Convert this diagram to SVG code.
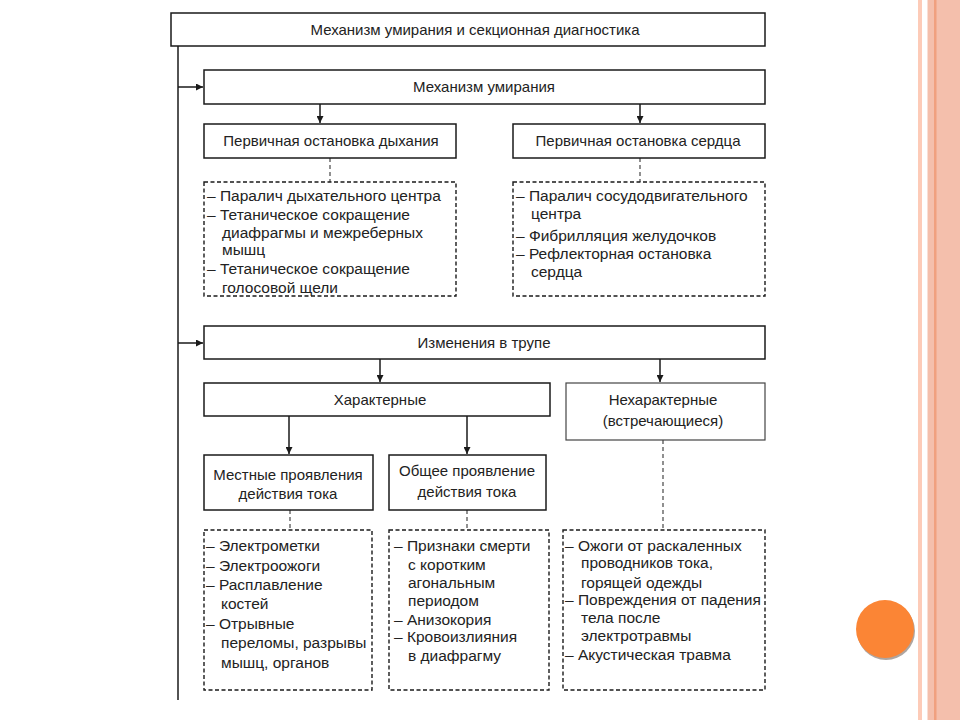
<svg xmlns="http://www.w3.org/2000/svg" width="960" height="720" viewBox="0 0 960 720">
<defs>
<marker id="ah" viewBox="0 0 10 10" refX="10" refY="5" markerWidth="7" markerHeight="7" markerUnits="userSpaceOnUse" orient="auto">
<path d="M0,0 L10,5 L0,10 z" fill="#1a1a1a"/>
</marker>
<style>
.box{fill:#fff;stroke:#1a1a1a;stroke-width:1.5}
.nbox{fill:#fff;stroke:#444;stroke-width:1.2}
.dbox{fill:#fff;stroke:#1a1a1a;stroke-width:1.4;stroke-dasharray:4 2.5}
.ln{fill:none;stroke:#1a1a1a;stroke-width:1.5}
.dln{fill:none;stroke:#555;stroke-width:1.3;stroke-dasharray:4 3}
text{font-family:"Liberation Sans",Arial,sans-serif;font-size:15px;fill:#222}
.l{font-size:15.5px}
.c{text-anchor:middle}
</style>
</defs>
<rect width="960" height="720" fill="#fff"/>
<g id="decor">
<rect x="918" y="0" width="4" height="720" fill="#fdcbb8"/>
<rect x="927.5" y="0" width="32.5" height="720" fill="#f4bfac"/>
<rect x="934" y="0" width="2.5" height="720" fill="#f0a07f"/>
<circle cx="886" cy="631" r="29" fill="#9a8f88" opacity="0.8"/>
<circle cx="885" cy="629" r="29" fill="#fb8535"/>
</g>
<g id="connectors">
<path class="ln" d="M178,46 V700"/>
<path class="ln" d="M178,87 H203" marker-end="url(#ah)"/>
<path class="ln" d="M178,343 H203" marker-end="url(#ah)"/>
<path class="ln" d="M320,104 V123" marker-end="url(#ah)"/>
<path class="ln" d="M640,104 V123" marker-end="url(#ah)"/>
<path class="dln" d="M330,158 V182"/>
<path class="dln" d="M640,158 V182"/>
<path class="ln" d="M380,359 V382" marker-end="url(#ah)"/>
<path class="ln" d="M660,359 V382" marker-end="url(#ah)"/>
<path class="ln" d="M289,416 V454" marker-end="url(#ah)"/>
<path class="ln" d="M467,416 V454" marker-end="url(#ah)"/>
<path class="dln" d="M290,510 V530"/>
<path class="dln" d="M467,510 V530"/>
<path class="dln" d="M663,440 V530"/>
</g>
<g id="n-root">
<rect class="box" x="171" y="13" width="594" height="33"/>
<text class="c" x="475" y="35">Механизм умирания и секционная диагностика</text>
</g>
<g id="n-mech">
<rect class="box" x="204" y="70" width="561" height="34"/>
<text class="c" x="484" y="92">Механизм умирания</text>
</g>
<g id="n-resp">
<rect class="box" x="204" y="124" width="252" height="34"/>
<text class="c" x="331" y="146">Первичная остановка дыхания</text>
</g>
<g id="n-heart">
<rect class="box" x="513" y="124" width="252" height="34"/>
<text class="c" x="638" y="146">Первичная остановка сердца</text>
</g>
<g id="n-resp-list" class="l">
<rect class="dbox" x="204" y="182" width="252" height="114"/>
<text class="l" x="207" y="201">– Паралич дыхательного центра</text>
<text class="l" x="207" y="220">– Тетаническое сокращение</text>
<text class="l" x="222" y="238">диафрагмы и межреберных</text>
<text class="l" x="222" y="255">мышц</text>
<text class="l" x="207" y="274">– Тетаническое сокращение</text>
<text class="l" x="222" y="293">голосовой щели</text>
</g>
<g id="n-heart-list">
<rect class="dbox" x="513" y="182" width="252" height="114"/>
<text class="l" x="516" y="201">– Паралич сосудодвигательного</text>
<text class="l" x="531" y="219">центра</text>
<text class="l" x="516" y="241">– Фибрилляция желудочков</text>
<text class="l" x="516" y="259">– Рефлекторная остановка</text>
<text class="l" x="531" y="277">сердца</text>
</g>
<g id="n-changes">
<rect class="box" x="204" y="326" width="561" height="33"/>
<text class="c" x="484" y="348">Изменения в трупе</text>
</g>
<g id="n-char">
<rect class="box" x="204" y="383" width="346" height="33"/>
<text class="c" x="380" y="405">Характерные</text>
</g>
<g id="n-nonchar">
<rect class="nbox" x="566" y="383" width="199" height="57"/>
<text class="c" x="663" y="405">Нехарактерные</text>
<text class="c" x="663" y="426">(встречающиеся)</text>
</g>
<g id="n-local">
<rect class="box" x="204" y="455" width="169" height="55"/>
<text class="c" x="288" y="480">Местные проявления</text>
<text class="c" x="288" y="499">действия тока</text>
</g>
<g id="n-general">
<rect class="box" x="389" y="455" width="157" height="55"/>
<text class="c" x="467" y="476">Общее проявление</text>
<text class="c" x="467" y="497">действия тока</text>
</g>
<g id="n-local-list">
<rect class="dbox" x="204" y="530" width="168" height="160"/>
<text class="l" x="206" y="551">– Электрометки</text>
<text class="l" x="206" y="571">– Электроожоги</text>
<text class="l" x="206" y="590">– Расплавление</text>
<text class="l" x="221" y="609">костей</text>
<text class="l" x="206" y="629">– Отрывные</text>
<text class="l" x="221" y="648">переломы, разрывы</text>
<text class="l" x="221" y="668">мышц, органов</text>
</g>
<g id="n-general-list">
<rect class="dbox" x="389" y="530" width="160" height="160"/>
<text class="l" x="394" y="551">– Признаки смерти</text>
<text class="l" x="408" y="570">с коротким</text>
<text class="l" x="408" y="588">агональным</text>
<text class="l" x="408" y="606">периодом</text>
<text class="l" x="394" y="625">– Анизокория</text>
<text class="l" x="394" y="642">– Кровоизлияния</text>
<text class="l" x="408" y="661">в диафрагму</text>
</g>
<g id="n-nonchar-list">
<rect class="dbox" x="563" y="530" width="202" height="160"/>
<text class="l" x="565" y="551">– Ожоги от раскаленных</text>
<text class="l" x="581" y="568">проводников тока,</text>
<text class="l" x="581" y="588">горящей одежды</text>
<text class="l" x="565" y="605">– Повреждения от падения</text>
<text class="l" x="581" y="623">тела после</text>
<text class="l" x="581" y="641">электротравмы</text>
<text class="l" x="565" y="660">– Акустическая травма</text>
</g>
</svg>
